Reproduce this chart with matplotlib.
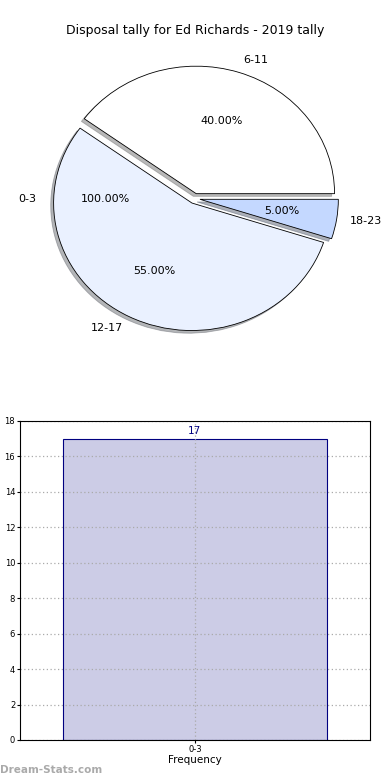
import numpy as np
import matplotlib
matplotlib.use("Agg")
import matplotlib.pyplot as plt

# pie data
pie_labels = ["6-11", "12-17", "18-23"]
pie_values = [40, 55, 5]
pie_colors = ["#ffffff", "#eaf1ff", "#c4d8ff"]
extra_label = "0-3"
extra_pct = "100.00%"

# bar data
bar_cats = ["0-3"]
bar_vals = [17]

expl = 0.04

fig = plt.figure(figsize=(3.9, 7.8), dpi=100)

# --- pie ---
ax1 = fig.add_axes([0.0552, 0.5412, 0.887, 0.4086])
wedges, texts, autotexts = ax1.pie(
    pie_values, labels=pie_labels, colors=pie_colors, autopct="%.2f%%",
    explode=[expl] * len(pie_values),
    shadow={"ox": -0.015, "oy": -0.015, "shade": 0.55},
    startangle=0, labeldistance=1.1, pctdistance=0.6,
    wedgeprops=dict(edgecolor="black", linewidth=0.6),
    textprops=dict(fontsize=8))
ax1.set_aspect("auto")
ax1.set_xlim(-1.25, 1.25)
ax1.set_ylim(-1.25, 1.25)
# the empty 0-3 slice only shows its texts, at 180 degrees (exploded too)
ang = np.pi
ax1.text((1.1 + expl) * np.cos(ang), 1.1 * np.sin(ang), extra_label, ha="right", va="center", fontsize=8)
ax1.text((0.6 + expl) * np.cos(ang), 0.6 * np.sin(ang), extra_pct, ha="center", va="center", fontsize=8)
fig.text(0.5, 0.961, "Disposal tally for Ed Richards - 2019 tally", ha="center", va="center", fontsize=9)

# --- bar ---
ax2 = fig.add_axes([0.0513, 0.0513, 0.897, 0.409])
x = np.arange(len(bar_cats))
ax2.bar(x, bar_vals, width=0.755, color="#ccccE6", edgecolor="#000080", linewidth=0.8, zorder=1)
for xi, v in zip(x, bar_vals):
    ax2.text(xi, v + 0.15, str(v), ha="center", va="bottom", color="#000080", fontsize=7.5, zorder=4)
ax2.set_xlim(-0.5, len(bar_cats) - 0.5)
ax2.set_ylim(0, 18)
ax2.set_yticks(np.arange(0, 19, 2))
ax2.set_xticks(x)
ax2.set_xticklabels(bar_cats)
ax2.tick_params(labelsize=6, length=2, pad=1.5)
ax2.set_axisbelow(False)
ax2.grid(True, linestyle=(0, (1, 2)), color="#aaaaaa", linewidth=0.9, zorder=3)
for sp in ax2.spines.values():
    sp.set_zorder(5)
ax2.set_xlabel("Frequency", fontsize=7.5, labelpad=1)
ax2.set_ylabel("Disposal Tally", fontsize=7, fontweight="bold", labelpad=2)
ax2.yaxis.set_label_coords(-0.062, 0.5)

fig.text(0.0, 0.013, "Dream-Stats.com", fontsize=7.5, color="#aaaaaa", fontweight="bold", ha="left", va="center")

fig.savefig("out.png", dpi=100)
